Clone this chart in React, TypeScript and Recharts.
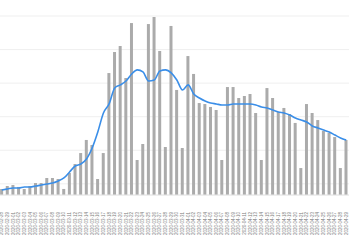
import React from 'react';
import { ComposedChart, Bar, Line, XAxis, YAxis, CartesianGrid } from 'recharts';

// daily counts (bars) and smoothed average (line)
const dailyCases = [
  54, 80, 89, 72, 54, 80, 107, 107, 152, 152, 143, 54, 197, 277, 375, 492,
  447, 143, 375, 1090, 1278, 1332, 1046, 1537, 313, 456, 1528, 1591, 1287, 429,
  1511, 939, 420, 1242, 1082, 822, 813, 787, 760, 313, 965, 965, 867, 885,
  903, 733, 313, 956, 867, 742, 778, 724, 644, 241, 813, 733, 670, 572,
  554, 518, 241, 492,
];

const averageCases = [
  45, 54, 63, 63, 72, 72, 80, 89, 98, 107, 125, 152, 206, 259, 277, 322,
  420, 563, 733, 814, 957, 984, 1019, 1082, 1118, 1100, 1019, 1028, 1109, 1118,
  1091, 1028, 939, 984, 903, 867, 840, 822, 814, 805, 805, 814, 814, 814,
  814, 805, 787, 778, 760, 742, 733, 715, 688, 670, 653, 617, 599, 581,
  563, 536, 510, 492,
];

const startDay = new Date(2020, 1, 28);
const dayLabels = dailyCases.map((_, i) => {
  const d = new Date(startDay.getTime() + i * 86400000);
  return `${d.getFullYear()}-${String(d.getMonth() + 1).padStart(2, '0')}-${String(d.getDate()).padStart(2, '0')}`;
});

const yTicks = [0, 100, 200, 300, 400, 500, 600, 700, 800, 900, 1000, 1100, 1200, 1300, 1400, 1500, 1600];

const chartData = dayLabels.map((day, i) => ({
  day,
  cases: dailyCases[i],
  avg: averageCases[i],
}));

function DayTick(props: any) {
  const { x, y, payload } = props;
  return (
    <text
      x={x}
      y={y}
      transform={`rotate(-90, ${x}, ${y})`}
      dx={-9}
      dy={1.5}
      textAnchor="end"
      fontSize={4.5}
      fill="#7a7a7a"
      fontFamily="Liberation Sans, sans-serif"
    >
      {payload.value}
    </text>
  );
}

export default function App() {
  return (
    <div style={{ position: 'absolute', left: 0, top: 0, background: '#fff' }}>
      <ComposedChart
        width={350}
        height={250}
        data={chartData}
        margin={{ top: 16, right: 1, bottom: 0, left: -1 }}
        barCategoryGap="20%"
      >
        <CartesianGrid vertical={false} stroke="#efefef" />
        <XAxis
          dataKey="day"
          interval={0}
          height={55}
          tickLine={false}
          axisLine={{ stroke: '#e6e6e6' }}
          tick={<DayTick />}
        />
        <YAxis hide domain={[0, 1600]} ticks={yTicks} />
        <Bar dataKey="cases" fill="#ababab" isAnimationActive={false} />
        <Line
          type="monotone"
          dataKey="avg"
          stroke="#3a8ee8"
          strokeWidth={1.6}
          dot={false}
          isAnimationActive={false}
        />
      </ComposedChart>
    </div>
  );
}
